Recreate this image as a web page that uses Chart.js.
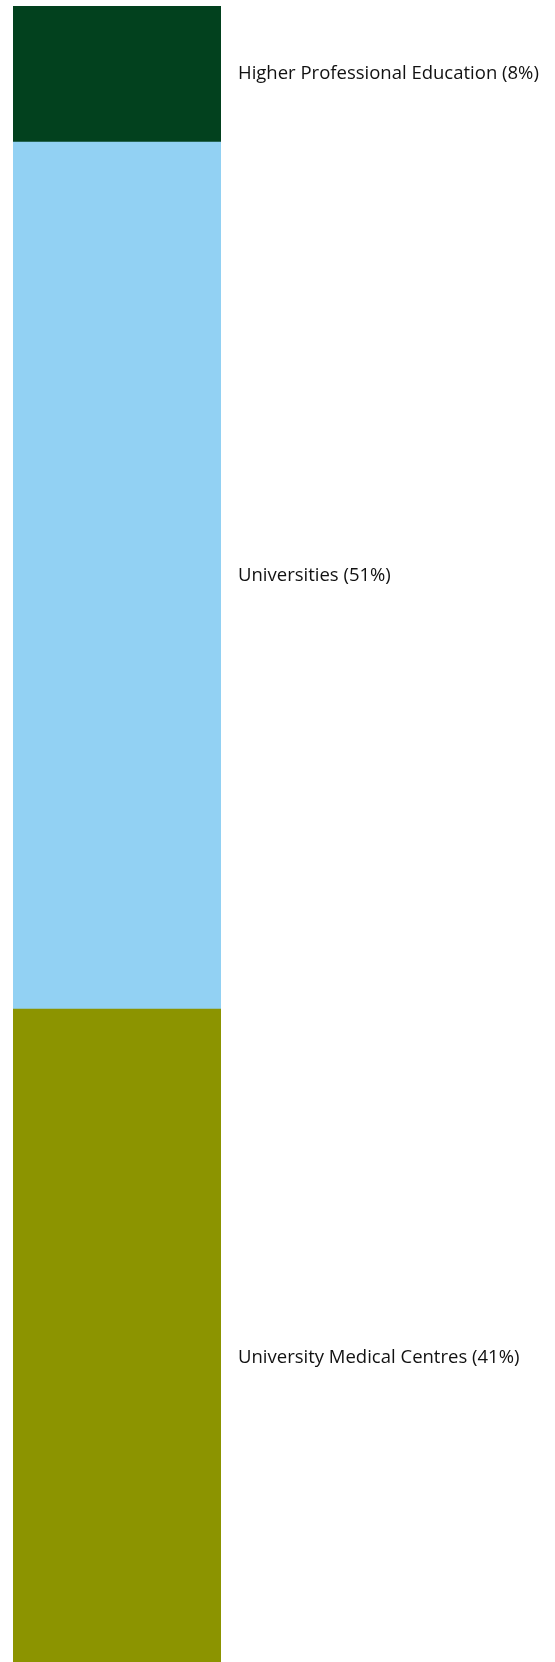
<!DOCTYPE html>
<html>
<head>
<meta charset="utf-8">
<script src="https://cdn.jsdelivr.net/npm/chart.js@4/dist/chart.umd.min.js"></script>
<style>
  html, body { margin: 0; padding: 0; background: #ffffff; overflow: hidden; }
  /* the bar runs on past the bottom edge of the page */
  #clip { width: 555px; height: 1662px; overflow: hidden; }
  #wrap { width: 555px; height: 1706px; }
</style>
</head>
<body>
<div id="clip"><div id="wrap"><canvas id="share-chart"></canvas></div></div>
<script>
// Segments listed bottom to top
const segmentNames = ['University Medical Centres', 'Universities', 'Higher Professional Education'];
const segmentShares = [41, 51, 8];
const segmentColors = ['#8c9400', '#92d1f3', '#02411e'];

// Writes "Name (x%)" to the right of each stacked segment, centred vertically
const segmentLabels = {
    id: 'segmentLabels',
    afterDatasetsDraw(chart) {
        const ctx = chart.ctx;
        ctx.save();
        ctx.font = '18.5px "Open Sans", sans-serif';
        ctx.fillStyle = '#111111';
        ctx.textBaseline = 'middle';
        ctx.textAlign = 'left';
        chart.data.datasets.forEach((ds, i) => {
            const bar = chart.getDatasetMeta(i).data[0];
            const midY = (bar.y + bar.base) / 2;
            ctx.fillText(ds.label + ' (' + ds.data[0] + '%)', bar.x + bar.width / 2 + 17, midY);
        });
        ctx.restore();
    }
};

const datasets = segmentNames.map((name, i) => ({
    label: name,
    data: [segmentShares[i]],
    backgroundColor: segmentColors[i],
    borderWidth: 0,
    barPercentage: 1,
    categoryPercentage: 1
}));

new Chart(document.getElementById('share-chart'), {
    type: 'bar',
    data: {
        labels: [''],
        datasets: datasets
    },
    options: {
        responsive: true,
        maintainAspectRatio: false,
        animation: false,
        layout: {
            padding: { top: 6, left: 13, right: 334, bottom: 0 }
        },
        scales: {
            x: { stacked: true, display: false },
            y: { stacked: true, display: false, min: 0, max: 100 }
        },
        plugins: {
            legend: { display: false },
            tooltip: { enabled: false }
        }
    },
    plugins: [segmentLabels]
});
</script>
</body>
</html>
